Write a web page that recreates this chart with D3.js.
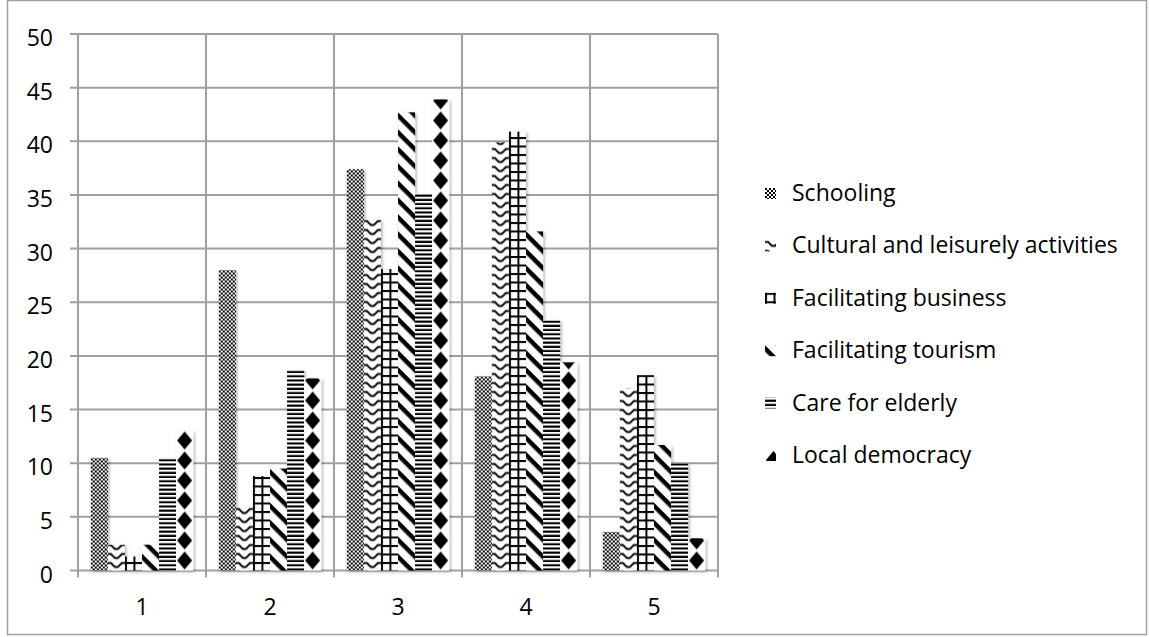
<!DOCTYPE html>
<html>
<head>
<meta charset="utf-8">
<script src="https://cdn.jsdelivr.net/npm/d3@7"></script>
<style>
  html, body { margin: 0; padding: 0; background: #fff; }
  svg { display: block; }
  text { font-family: "Open Sans", Lato, sans-serif; fill: #000; }
</style>
</head>
<body>
<svg id="chart" width="1149" height="637"></svg>
<script>
const categories = ["1", "2", "3", "4", "5"];
const seriesNames = ["Schooling", "Cultural and leisurely activities", "Facilitating business", "Facilitating tourism", "Care for elderly", "Local democracy"];
const schooling = [10.5, 28.0, 37.4, 18.1, 3.6];
const cultural = [2.4, 5.9, 32.7, 39.9, 17.0];
const business = [1.3, 8.8, 28.1, 40.9, 18.2];
const tourism = [2.4, 9.5, 42.7, 31.6, 11.7];
const elderly = [10.5, 18.7, 35.1, 23.3, 10.0];
const democracy = [13.0, 17.9, 43.9, 19.4, 3.0];
const yTicks = [0, 5, 10, 15, 20, 25, 30, 35, 40, 45, 50];

const seriesValues = [schooling, cultural, business, tourism, elderly, democracy];
const patternIds = ["p-school", "p-cult", "p-bus", "p-tour", "p-eld", "p-dem"];

const svg = d3.select("#chart");
const plot = { left: 78, right: 718, top: 34, bottom: 570.5 };

// outer border
svg.append("rect").attr("x", 7.5).attr("y", 0.5).attr("width", 1139).attr("height", 634)
  .attr("fill", "#fff").attr("stroke", "#a0a0a0").attr("stroke-width", 1.5);

const defs = svg.append("defs");
const f = defs.append("filter").attr("id", "shadow").attr("x", "-20%").attr("y", "-5%").attr("width", "150%").attr("height", "115%");
f.append("feDropShadow").attr("dx", 1.5).attr("dy", 1.5).attr("stdDeviation", 1.4)
  .attr("flood-color", "#000").attr("flood-opacity", 0.3);

function pat(id, w, h) {
  const p = defs.append("pattern").attr("id", id).attr("patternUnits", "userSpaceOnUse")
    .attr("width", w).attr("height", h);
  p.append("rect").attr("width", w).attr("height", h).attr("fill", "#fff");
  return p;
}
// checkerboard
{
  const p = pat("p-school", 4, 4);
  p.append("rect").attr("x", 0).attr("y", 0).attr("width", 2).attr("height", 2).attr("fill", "#000");
  p.append("rect").attr("x", 2).attr("y", 2).attr("width", 2).attr("height", 2).attr("fill", "#000");
}
// zigzag
{
  const p = pat("p-cult", 17, 9);
  p.append("path").attr("d", "M0,1.5 L3,1.5 L7,5.5 L10,5.5 L14,1.5 L17,1.5").attr("fill", "none")
    .attr("stroke", "#000").attr("stroke-width", 1.8);
}
// grid
{
  const p = pat("p-bus", 8.5, 8.5);
  p.append("rect").attr("x", 0).attr("y", 0).attr("width", 2).attr("height", 8.5).attr("fill", "#000");
  p.append("rect").attr("x", 0).attr("y", 0).attr("width", 8.5).attr("height", 2).attr("fill", "#000");
}
// wide downward diagonal
{
  const p = defs.append("pattern").attr("id", "p-tour").attr("patternUnits", "userSpaceOnUse")
    .attr("width", 12).attr("height", 12).attr("patternTransform", "rotate(45)");
  p.append("rect").attr("width", 12).attr("height", 12).attr("fill", "#fff");
  p.append("rect").attr("x", 0).attr("y", 0).attr("width", 12).attr("height", 4.5).attr("fill", "#000");
}
// horizontal stripes
{
  const p = pat("p-eld", 4, 4.2);
  p.append("rect").attr("x", 0).attr("y", 2.1).attr("width", 4).attr("height", 2.1).attr("fill", "#000");
}
// diamonds
{
  const p = pat("p-dem", 17, 20);
  p.append("path").attr("d", "M8.5,1 L16,10 L8.5,19 L1,10 Z").attr("fill", "#000");
}

const x0 = d3.scaleBand().domain(categories).range([plot.left, plot.right]).padding(0);
const x1 = d3.scaleBand().domain(seriesNames).range([0, x0.bandwidth()]).paddingInner(0).paddingOuter(0.75);
const y = d3.scaleLinear().domain([0, 50]).range([plot.bottom, plot.top]);

// horizontal gridlines (with left tick marks)
svg.append("g").selectAll("line").data(yTicks).join("line")
  .attr("x1", plot.left - 8).attr("x2", plot.right)
  .attr("y1", d => y(d)).attr("y2", d => y(d))
  .attr("stroke", "#a0a0a0").attr("stroke-width", 2);

// vertical category boundary lines (with bottom tick marks)
const bounds = categories.map(c => x0(c)).concat([plot.right]);
svg.append("g").selectAll("line").data(bounds).join("line")
  .attr("x1", d => d).attr("x2", d => d)
  .attr("y1", plot.top).attr("y2", plot.bottom + 7)
  .attr("stroke", "#a0a0a0").attr("stroke-width", 2);

// y labels
svg.append("g").selectAll("text").data(yTicks).join("text")
  .attr("x", 53).attr("y", d => y(d) + 12)
  .attr("text-anchor", "end").attr("font-size", 23)
  .text(d => d);

// x labels
svg.append("g").selectAll("text").data(categories).join("text")
  .attr("x", d => x0(d) + x0.bandwidth() / 2).attr("y", 615)
  .attr("text-anchor", "middle").attr("font-size", 23)
  .text(d => d);

// bars
const barsG = svg.append("g").attr("filter", "url(#shadow)");
seriesNames.forEach((s, si) => {
  categories.forEach((c, ci) => {
    const v = seriesValues[si][ci];
    const g = barsG.append("g")
      .attr("transform", `translate(${x0(c) + x1(s)},${y(0)})`);
    g.append("rect")
      .attr("x", 0).attr("y", y(v) - y(0))
      .attr("width", x1.bandwidth()).attr("height", y(0) - y(v))
      .attr("fill", `url(#${patternIds[si]})`);
  });
});

// legend
const legend = svg.append("g");
seriesNames.forEach((s, i) => {
  const by = 201 + i * 52.4;
  const g = legend.append("g").attr("transform", `translate(765,${by - 13})`);
  g.append("rect").attr("width", 11).attr("height", 11).attr("fill", `url(#${patternIds[i]})`);
  legend.append("text").attr("x", 792).attr("y", by).attr("font-size", 23).text(s);
});
</script>
</body>
</html>
